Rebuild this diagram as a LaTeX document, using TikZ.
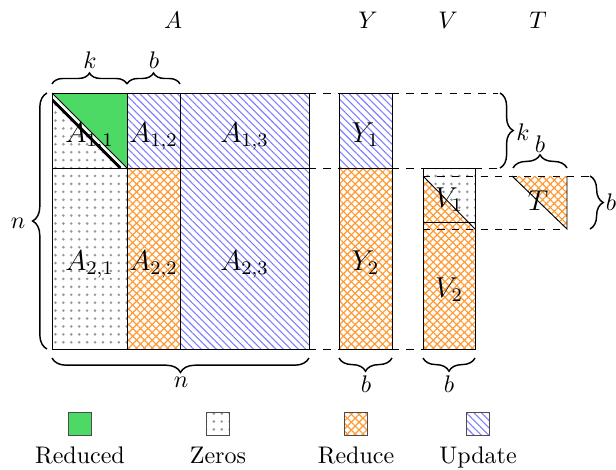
\documentclass[tikz,border=0pt]{standalone}
\usetikzlibrary{patterns,patterns.meta,decorations.pathreplacing}
\definecolor{redgreen}{RGB}{76,217,100}
\definecolor{redorange}{RGB}{255,153,51}
\definecolor{updblue}{RGB}{125,125,255}
\tikzset{
  zeros/.style={pattern={Dots[distance=3.3pt,radius=0.6pt]}, pattern color=black!40},
  upd/.style={pattern={Lines[angle=-45,distance=2.2pt,line width=0.45pt]}, pattern color=updblue},
  redA/.style={pattern={Lines[angle=45,distance=2.3pt,line width=0.5pt]}, pattern color=redorange},
  redB/.style={pattern={Lines[angle=-45,distance=2.3pt,line width=0.5pt]}, pattern color=redorange},
  brc/.style={decorate, decoration={brace, amplitude=#1}, semithick},
  brc/.default=5pt,
  dsh/.style={dashed, thin},
  blk/.style={font=\large, anchor=base, inner sep=0pt},
  sml/.style={anchor=base, inner sep=0pt},
  legbox/.style={draw=black!70, thin},
}
\newcommand\redfill[1]{\fill[redA] #1; \fill[redB] #1;}
\begin{document}
\begin{tikzpicture}[x=0.41667pt, y=-0.41667pt]
\useasboundingbox (0,0) rectangle (616,469);

% ---- A ----
\fill[zeros] (52,93) rectangle (127,168);
\fill[redgreen] (52,93) -- (127,93) -- (127,168) -- cycle;
\begin{scope}
  \clip (52,93) rectangle (127,168);
  \draw[white, line width=1.2pt] (52,95.6) -- (124.4,168);
  \draw[line width=1.2pt] (52,99.6) -- (120.4,168);
\end{scope}
\draw[thin] (52,93) -- (127,168);
\fill[upd] (127,93) rectangle (309,168);
\fill[zeros] (52,168) rectangle (127,349);
\redfill{(127,168) rectangle (180,349)}
\fill[upd] (180,168) rectangle (309,349);
\draw[thin] (52,93) rectangle (309,349);
\draw[thin] (52,168) -- (309,168);
\draw[thin] (127,93) -- (127,349);
\draw[thin] (180,93) -- (180,349);

% ---- Y ----
\fill[upd] (339,93) rectangle (392,168);
\redfill{(339,168) rectangle (392,349)}
\draw[thin] (339,93) rectangle (392,349);
\draw[thin] (339,168) -- (392,168);

% ---- V ----
\redfill{(423,168) rectangle (475,349)}
\fill[white] (423,168) -- (475,168) -- (475,229) -- (423,176) -- cycle;
\fill[zeros] (423,168) -- (475,168) -- (475,229) -- (423,176) -- cycle;
\draw[thin] (423,176) -- (475,229);
\draw[thin] (423,168) rectangle (475,349);
\draw[thin] (423,222) -- (475,222);

% ---- T ----
\redfill{(512,176) -- (567,176) -- (567,229) -- cycle}
\draw[thin] (512,176) -- (567,229) -- (567,176);

% ---- dashed guides ----
\draw[dsh] (309,93) -- (339,93);
\draw[dsh] (392,93) -- (498,93);
\draw[dsh] (309,168) -- (339,168);
\draw[dsh] (392,168) -- (423,168);
\draw[dsh] (475,168) -- (500,168);
\draw[dsh] (423,176) -- (590,176);
\draw[dsh] (423,229) -- (567,229);
\draw[dsh] (309,349) -- (339,349);
\draw[dsh] (392,349) -- (423,349);

% ---- braces ----
\draw[brc=4.6pt] (52,84) -- (127,84);
\draw[brc=4.6pt] (127,84) -- (180,84);
\draw[brc=6pt] (47,349) -- (47,93);
\draw[brc=6pt] (309,358) -- (52,358);
\draw[brc=5.5pt] (392,358) -- (339,358);
\draw[brc=5.5pt] (475,358) -- (423,358);
\draw[brc=5.5pt] (500,93) -- (500,168);
\draw[brc=5.5pt] (513,168) -- (567,168);
\draw[brc=5.5pt] (590,176) -- (590,229);

% ---- labels ----
\node[sml] (tA) at (173,28) {$A$};
\node[sml] (tY) at (368,28) {$Y$};
\node[sml] (tV) at (448,28) {$V$};
\node[sml] (tT) at (538,28) {$T$};

\node[blk] (a11) at (89.5,142) {$A_{1,1}$};
\node[blk] (a12) at (153.5,142) {$A_{1,2}$};
\node[blk] (a13) at (244.5,142) {$A_{1,3}$};
\node[blk] (a21) at (89.5,270) {$A_{2,1}$};
\node[blk] (a22) at (153.5,270) {$A_{2,2}$};
\node[blk] (a23) at (244.5,270) {$A_{2,3}$};
\node[blk] (y1) at (365.5,142) {$Y_1$};
\node[blk] (y2) at (365.5,270) {$Y_2$};
\node[blk] (v1) at (449,207) {$V_1$};
\node[blk] (v2) at (449,297) {$V_2$};
\node[blk] (t) at (538,210) {$T$};

\node[sml] (lk) at (90,68) {$k$};
\node[sml] (lb) at (154,68) {$b$};
\node[sml] (ln) at (18,228) {$n$};
\node[sml] (lnb) at (181,387) {$n$};
\node[sml] (lyb) at (366,392) {$b$};
\node[sml] (lvb) at (449,392) {$b$};
\node[sml] (lkr) at (523,140) {$k$};
\node[sml] (ltb) at (540,152) {$b$};
\node[sml] (lbr) at (611,210) {$b$};

% ---- legend ----
\fill[redgreen] (68.5,412) rectangle (91.5,435);
\draw[legbox] (68.5,412) rectangle (91.5,435);
\fill[zeros] (206.5,412) rectangle (229.5,435);
\draw[legbox] (206.5,412) rectangle (229.5,435);
\redfill{(344.5,412) rectangle (367.5,435)}
\draw[legbox] (344.5,412) rectangle (367.5,435);
\fill[upd] (466.5,412) rectangle (489.5,435);
\draw[legbox] (466.5,412) rectangle (489.5,435);
\node[sml] (g1) at (80,463) {Reduced};
\node[sml] (g2) at (218,463) {Zeros};
\node[sml] (g3) at (356,463) {Reduce};
\node[sml] (g4) at (478,463) {Update};
\end{tikzpicture}
\end{document}
